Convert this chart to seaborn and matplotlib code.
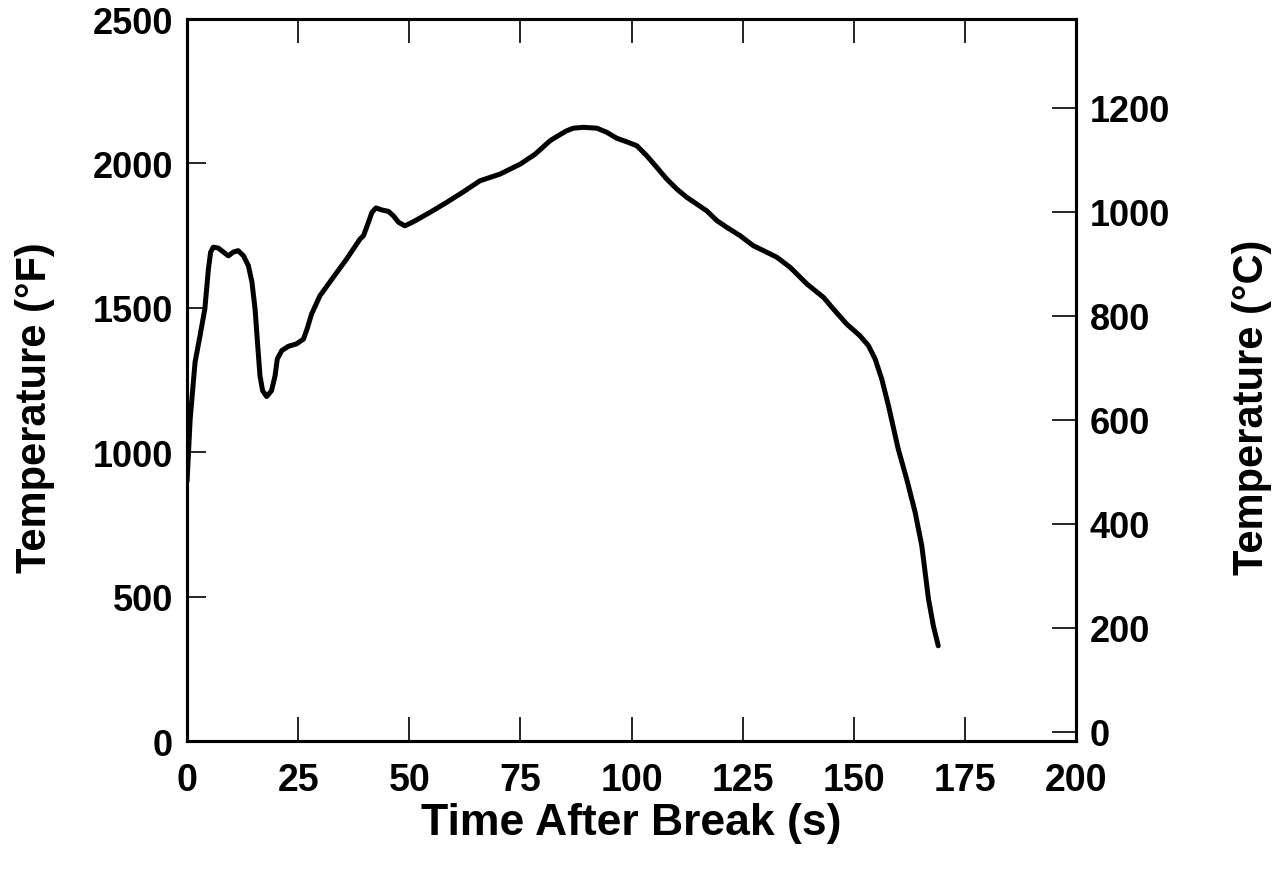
import matplotlib
matplotlib.use('Agg')
import matplotlib.pyplot as plt
import seaborn as sns
import pandas as pd

# Temperature history
time_s = [0, 0.7, 1.8, 2.9, 4, 4.8, 5.3, 5.9, 7.0, 8.2, 9.3, 10.4, 11.5, 12.7,
          13.8, 14.6, 15.3, 15.9, 16.4, 17.0, 17.9, 19.0, 19.8, 20.3, 21.3,
          22.8, 24.6, 26.2, 27.0, 28.0, 29.9, 32.9, 35.9, 38.9, 39.7, 40.8,
          41.6, 42.5, 43.8, 45.3, 46.4, 47.6, 49.0, 50.9, 54.7, 58.4, 62.2,
          65.9, 70.4, 75.0, 78.3, 81.7, 83.5, 85.4, 86.9, 89.2, 92.2, 94.4,
          96.7, 98.9, 101.2, 103.4, 105.7, 107.9, 110.2, 112.4, 114.7, 116.9,
          119.2, 121.4, 124.4, 127.4, 129.7, 132.7, 135.7, 139.5, 143.2, 145.4,
          148.4, 151.4, 153.3, 154.8, 156.3, 157.8, 160.0, 161.9, 163.8, 165.3,
          166.8, 167.9, 169.0]
temp_f = [900, 1115, 1312, 1402, 1496, 1634, 1693, 1710, 1707, 1693, 1680, 1693,
          1698, 1680, 1646, 1589, 1496, 1369, 1265, 1213, 1193, 1213, 1265, 1323,
          1352, 1367, 1375, 1392, 1427, 1478, 1542, 1606, 1669, 1738, 1750, 1796,
          1831, 1846, 1839, 1834, 1819, 1796, 1784, 1798, 1831, 1865, 1902, 1940,
          1963, 1998, 2032, 2079, 2096, 2113, 2122, 2125, 2122, 2108, 2087, 2075,
          2061, 2027, 1986, 1946, 1911, 1883, 1859, 1836, 1802, 1779, 1750, 1715,
          1698, 1675, 1640, 1582, 1536, 1496, 1444, 1403, 1369, 1323, 1253, 1161,
          1011, 907, 792, 676, 492, 399, 330]

x_ticks = [0, 25, 50, 75, 100, 125, 150, 175, 200]
f_ticks = [0, 500, 1000, 1500, 2000, 2500]
c_ticks = [0, 200, 400, 600, 800, 1000, 1200]

df = pd.DataFrame({'time': time_s, 'temp': temp_f})

sns.set_style('ticks')
plt.rcParams['font.family'] = ['Liberation Sans', 'DejaVu Sans']
plt.rcParams['font.weight'] = 'bold'
for key in ['text.color', 'axes.labelcolor', 'xtick.color', 'ytick.color',
            'axes.edgecolor']:
    plt.rcParams[key] = 'black'

fig = plt.figure(figsize=(12.76, 8.7), dpi=100)
ax = fig.add_axes([0.1466, 0.147, 0.6967, 0.830])

sns.lineplot(data=df, x='time', y='temp', ax=ax, color='black', linewidth=3.6)

ax.set_xlim(0, 200)
ax.set_ylim(0, 2500)
ax.set_xticks(x_ticks)
ax.set_yticks(f_ticks)
ax.tick_params(axis='x', direction='in', top=True, length=17, width=1.2,
               labelsize=27, pad=15)
ax.tick_params(axis='y', direction='in', length=14, width=1.2,
               labelsize=26, pad=10)
for lab in ax.get_xticklabels() + ax.get_yticklabels():
    lab.set_fontweight('bold')
ax.set_xlabel('Time After Break (s)', fontsize=32, fontweight='bold')
ax.set_ylabel('Temperature (°F)', fontsize=30, fontweight='bold')
ax.xaxis.set_label_coords(0.5, -0.085)
ax.yaxis.set_label_coords(-0.148, 0.463)

# Celsius scale on the right
ax2 = ax.twinx()
ax2.set_ylim((0 - 32) / 1.8, (2500 - 32) / 1.8)
ax2.set_yticks(c_ticks)
ax2.tick_params(axis='y', direction='in', length=17, width=1.2,
                labelsize=26, pad=10)
for lab in ax2.get_yticklabels():
    lab.set_fontweight('bold')
ax2.set_ylabel('Temperature (°C)', fontsize=30, fontweight='bold')
ax2.yaxis.set_label_coords(1.175, 0.463)

for a in (ax, ax2):
    for s in a.spines.values():
        s.set_linewidth(2.2)
        s.set_color('black')

fig.savefig('out.png', dpi=100)
